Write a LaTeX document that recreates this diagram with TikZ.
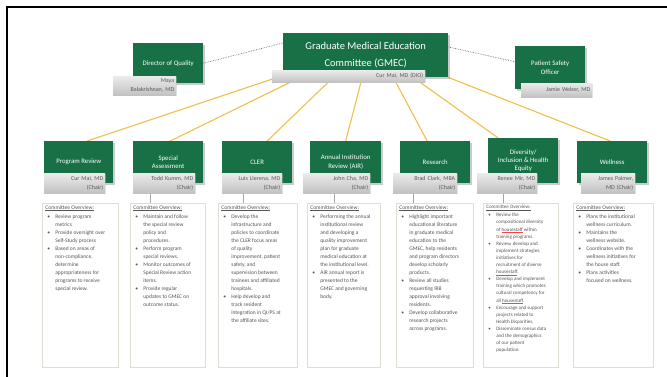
\documentclass[tikz,border=0pt]{standalone}
\usepackage{fontspec}
\setmainfont{Carlito}
\usetikzlibrary{shadows,backgrounds}
\definecolor{gmgreen}{RGB}{24,112,70}
\definecolor{gold}{RGB}{238,192,74}
\definecolor{ovline}{RGB}{222,222,212}
\definecolor{ovtext}{RGB}{85,85,85}
\newsavebox\sqbox
\newcommand\ovh{\underline{Committee Overview:}\par\vspace{1pt}}
\newcommand\bi[1]{\par\noindent\makebox[10pt][l]{\hspace{2pt}\textbullet}\begin{tabular}[t]{@{}l@{}}#1\end{tabular}\par}
\newcommand\sq[1]{\sbox\sqbox{#1}\makebox[\wd\sqbox][l]{\usebox\sqbox\hspace{-\wd\sqbox}{\color{red!75}\rule[-1.3pt]{\wd\sqbox}{0.35pt}}}}
\tikzset{
  gbox/.style={fill=gmgreen, text=white, anchor=north west, inner sep=0pt, align=center,
    font=\fontsize{6.8}{8.3}\selectfont,
    drop shadow={shadow xshift=1.8pt, shadow yshift=-1.8pt, fill=black!45, opacity=0.45}},
  glabel/.style={top color=black!8, bottom color=black!24, anchor=north west, inner xsep=2pt, inner ysep=1pt,
    align=right, text=black!65, font=\fontsize{6}{8.5}\selectfont,
    drop shadow={shadow xshift=1.2pt, shadow yshift=-1.2pt, fill=black!30, opacity=0.35}},
  ovbox/.style={draw=ovline, line width=0.7pt, fill=white, anchor=north west, inner xsep=3pt, inner ysep=2pt,
    drop shadow={shadow xshift=1pt, shadow yshift=-1pt, fill=black!12, opacity=0.4}},
  yline/.style={draw=gold, line width=1.1pt},
  dline/.style={draw=black!55, densely dotted, line width=0.7pt},
  vline/.style={draw=black!35, line width=0.5pt},
}
\begin{document}
\begin{tikzpicture}[x=1pt,y=-1pt]
\useasboundingbox (0,0) rectangle (667,377);
\draw[line width=1.6pt] (7,377) -- (7,7) -- (667,7);

% top level
\node[gbox, minimum width=165pt, minimum height=44pt, font=\fontsize{10.5}{17}\selectfont] (gmec) at (283,33) {Graduate Medical Education\\Committee (GMEC)};
\node[glabel, minimum height=12pt, text width=149pt] (gmecl) at (272,70) {Cur Mai, MD (DIO)};

\node[gbox, minimum width=70pt, minimum height=40pt] (dq) at (133,43) {Director of Quality};
\node[glabel, minimum height=19pt, text width=59pt] (dql) at (113,76) {Maya\\Balakrishnan, MD};

\node[gbox, minimum width=70pt, minimum height=43pt] (pso) at (515,46) {Patient Safety\\Officer};
\node[glabel, minimum height=14pt, text width=67pt] (psol) at (521,83) {Jamie Weber, MD};

% committees
\node[gbox, minimum width=69pt, minimum height=42pt] (pr) at (44,141) {Program Review};
\node[gbox, minimum width=70pt, minimum height=42pt] (sa) at (133,141) {Special\\Assessment};
\node[gbox, minimum width=70pt, minimum height=42pt] (cl) at (222,141) {CLER};
\node[gbox, minimum width=71pt, minimum height=42pt] (air) at (310,141) {Annual Institution\\Review (AIR)};
\node[gbox, minimum width=70pt, minimum height=42pt] (res) at (400,141) {Research};
\node[gbox, minimum width=70pt, minimum height=45pt] (div) at (488,138) {Diversity/\\Inclusion \& Health\\Equity};
\node[gbox, minimum width=70pt, minimum height=42pt] (wel) at (577,141) {Wellness};

\node[glabel, minimum height=20pt, text width=57pt] (prl) at (44,173) {Cur Mai, MD\\(Chair)};
\node[glabel, minimum height=20pt, text width=58pt] (sal) at (133,173) {Todd Kumm, MD\\(Chair)};
\node[glabel, minimum height=20pt, text width=56pt] (cll) at (222,173) {Luis Llerena, MD\\(Chair)};
\node[glabel, minimum height=20pt, text width=63pt] (airl) at (303,173) {John Cha, MD\\(Chair)};
\node[glabel, minimum height=20pt, text width=60pt] (resl) at (393,173) {Brad Clark, MBA\\(Chair)};
\node[glabel, minimum height=20pt, text width=56pt] (divl) at (477,173) {Renee Mir, MD\\(Chair)};
\node[glabel, minimum height=20pt, text width=50pt] (well) at (581,173) {James Palmer,\\MD (Chair)};

% overview boxes
\node[ovbox] (b1) at (42,203) {\parbox[t][160pt][t]{70pt}{\fontsize{5.5}{8}\selectfont\color{ovtext}\lineskip=0pt\lineskiplimit=0pt\ovh
\bi{Review program\\metrics}
\bi{Provide oversight over\\Self-Study process}
\bi{Based on areas of\\non-compliance,\\determine\\appropriateness for\\programs to receive\\special review.}}};

\node[ovbox] (b2) at (130,203) {\parbox[t][160pt][t]{69pt}{\fontsize{5.5}{8}\selectfont\color{ovtext}\lineskip=0pt\lineskiplimit=0pt\ovh
\bi{Maintain and follow\\the special review\\policy and\\procedures.}
\bi{Perform program\\special reviews.}
\bi{Monitor outcomes of\\Special Review action\\items.}
\bi{Provide regular\\updates to GMEC on\\outcome status.}}};

\node[ovbox] (b3) at (218,203) {\parbox[t][160pt][t]{73pt}{\fontsize{5.5}{8}\selectfont\color{ovtext}\lineskip=0pt\lineskiplimit=0pt\ovh
\bi{Develop the\\infrastructure and\\policies to coordinate\\the CLER focus areas\\of quality\\improvement, patient\\safety, and\\supervision between\\trainees and affiliated\\hospitals.}
\bi{Help develop and\\track resident\\integration in QI/PS at\\the affiliate sites.}}};

\node[ovbox] (b4) at (307,203) {\parbox[t][160pt][t]{67pt}{\fontsize{5.5}{8}\selectfont\color{ovtext}\lineskip=0pt\lineskiplimit=0pt\ovh
\bi{Performing the annual\\institutional review\\and developing a\\quality improvement\\plan for graduate\\medical education at\\the institutional level.}
\bi{AIR annual report is\\presented to the\\GMEC and governing\\body.}}};

\node[ovbox] (b5) at (396,203) {\parbox[t][160pt][t]{71pt}{\fontsize{5.5}{8}\selectfont\color{ovtext}\lineskip=0pt\lineskiplimit=0pt\ovh
\bi{Highlight important\\educational literature\\in graduate medical\\education to the\\GMEC, help residents\\and program directors\\develop scholarly\\products.}
\bi{Review all studies\\requesting IRB\\approval involving\\residents.}
\bi{Develop collaborative\\research projects\\across programs.}}};

\node[ovbox] (b6) at (483,203) {\parbox[t][160pt][t]{69pt}{\fontsize{5}{7.1}\selectfont\color{ovtext}\lineskip=0pt\lineskiplimit=0pt\ovh
\bi{Review the\\compositional diversity\\of \sq{housestaff} within\\training programs.}
\bi{Review, develop and\\implement strategies,\\initiatives for\\recruitment of diverse\\\sq{housestaff}.}
\bi{Develop and implement\\training which promotes\\cultural competency for\\all \sq{housestaff}.}
\bi{Encourage and support\\projects related to\\Health Disparities.}
\bi{Disseminate census data\\and the demographics\\of our patient\\population.}}};

\node[ovbox] (b7) at (573,203) {\parbox[t][160pt][t]{74pt}{\fontsize{5.5}{8}\selectfont\color{ovtext}\lineskip=0pt\lineskiplimit=0pt\ovh
\bi{Plans the institutional\\wellness curriculum.}
\bi{Maintains the\\wellness website.}
\bi{Coordinates with the\\wellness initiatives for\\the house staff.}
\bi{Plans activities\\focused on wellness.}}};

% connectors
\coordinate (x2) at (150,0);
\coordinate (x3) at (243,0);
\coordinate (x4) at (334,0);
\coordinate (x5) at (413,0);
\coordinate (x6) at (503,0);
\begin{scope}[on background layer]
\draw[yline] ([xshift=-88.5pt]gmec.south) -- ([xshift=8.5pt]pr.north);
\draw[yline] ([xshift=-65.5pt]gmec.south) -- ([xshift=2pt]sa.north);
\draw[yline] ([xshift=-32.5pt]gmec.south) -- ([xshift=10pt]cl.north);
\draw[yline] ([xshift=-3.5pt]gmec.south) -- (air.north);
\draw[yline] ([xshift=27.5pt]gmec.south) -- ([xshift=-8pt]res.north);
\draw[yline] ([xshift=47.5pt]gmec.south) -- ([xshift=-25pt]div.north);
\draw[yline] ([xshift=82.5pt]gmec.south) -- ([xshift=-2pt]wel.north);
\draw[dline] (dq.east) -- ([yshift=-10pt]gmec.north west);
\draw[dline] ([yshift=-14pt]gmec.north east) -- ([yshift=6pt]pso.west);
\draw[vline] (sal.south -| x2) -- (b2.north -| x2);
\draw[vline] (cll.south -| x3) -- (b3.north -| x3);
\draw[vline] (airl.south -| x4) -- (b4.north -| x4);
\draw[vline] (resl.south -| x5) -- (b5.north -| x5);
\draw[vline] (divl.south -| x6) -- (b6.north -| x6);
\end{scope}
\end{tikzpicture}
\end{document}
